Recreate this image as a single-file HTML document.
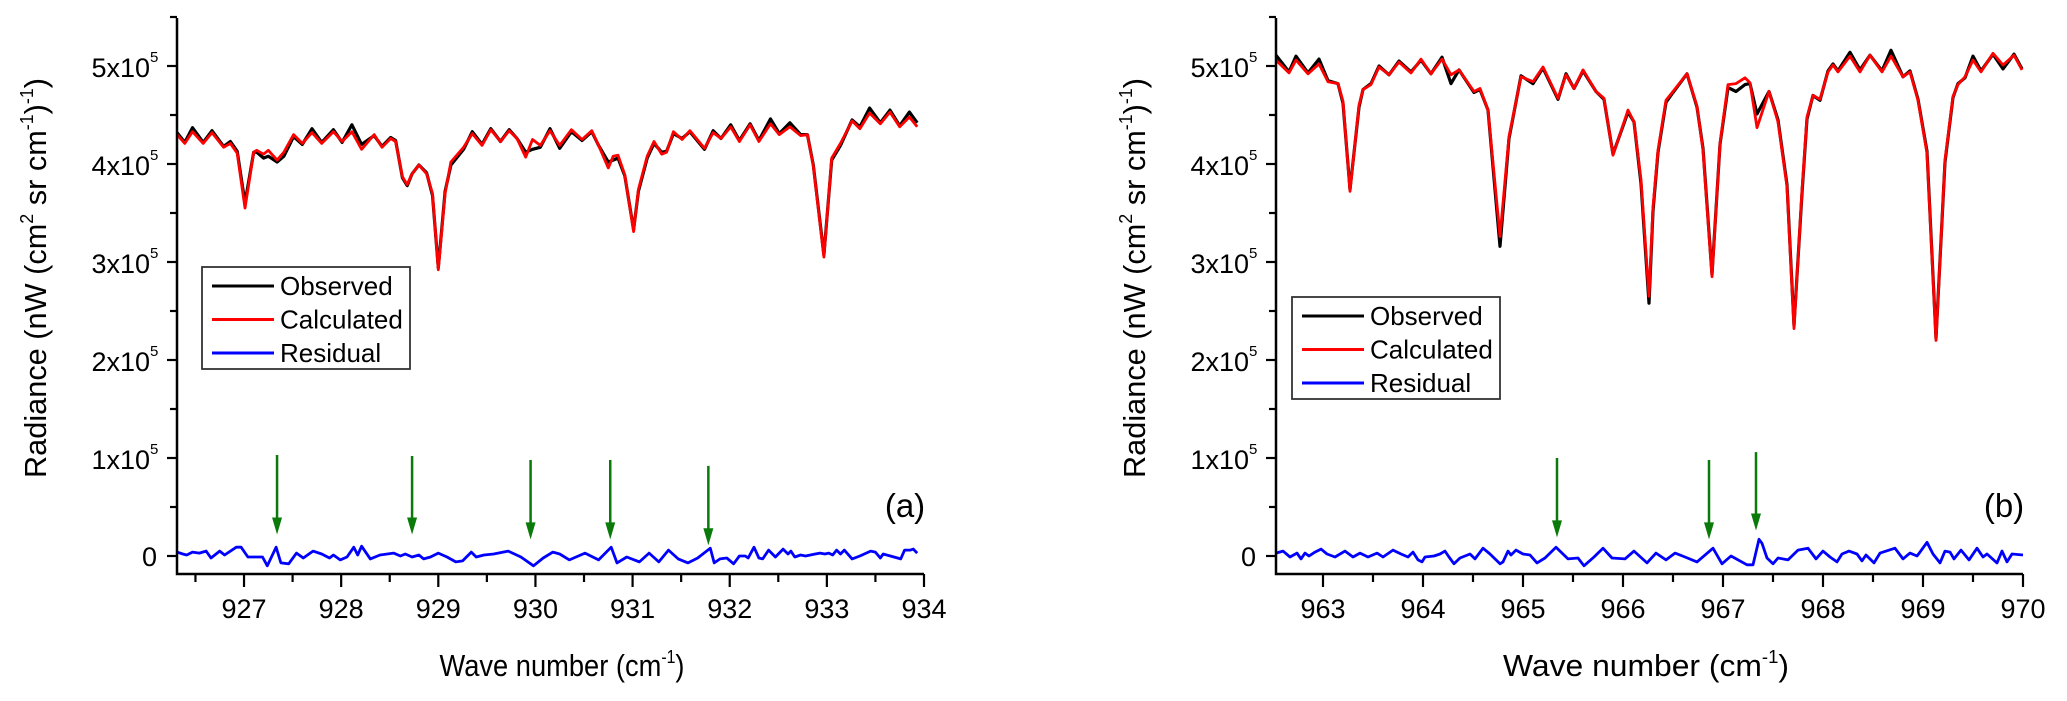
<!DOCTYPE html>
<html><head><meta charset="utf-8"><style>
html,body{margin:0;padding:0;background:#fff;}
svg{display:block;font-family:"Liberation Sans",Arial,sans-serif;}
</style></head><body>
<svg id="fig" width="2067" height="701" viewBox="0 0 2067 701"></svg>
<script>
// ---------- Panel (a) data ----------
const aX = [926.31,926.39,926.47,926.58,926.67,926.79,926.86,926.93,927.01,927.10,927.13,927.20,927.25,927.34,927.41,927.51,927.60,927.70,927.80,927.92,928.01,928.11,928.21,928.34,928.42,928.51,928.56,928.63,928.68,928.73,928.80,928.88,928.94,929.00,929.07,929.13,929.26,929.35,929.45,929.54,929.64,929.73,929.81,929.90,929.97,930.05,930.15,930.25,930.37,930.48,930.58,930.65,930.75,930.80,930.85,930.92,931.01,931.06,931.15,931.22,931.30,931.35,931.42,931.51,931.59,931.74,931.83,931.91,932.01,932.10,932.21,932.30,932.42,932.51,932.62,932.73,932.80,932.86,932.97,933.05,933.14,933.26,933.34,933.44,933.55,933.65,933.75,933.85,933.93];
const aCalc = [4.30,4.21,4.33,4.21,4.32,4.17,4.21,4.11,3.55,4.12,4.14,4.10,4.14,4.04,4.12,4.30,4.21,4.32,4.21,4.33,4.23,4.33,4.15,4.30,4.17,4.26,4.23,3.87,3.79,3.90,3.99,3.90,3.70,2.92,3.70,4.02,4.17,4.31,4.19,4.35,4.23,4.34,4.26,4.07,4.25,4.19,4.34,4.19,4.35,4.25,4.34,4.19,3.96,4.08,4.09,3.89,3.31,3.74,4.08,4.23,4.10,4.12,4.33,4.25,4.34,4.16,4.32,4.26,4.38,4.23,4.40,4.23,4.41,4.30,4.38,4.29,4.30,3.98,3.05,4.06,4.21,4.44,4.36,4.52,4.41,4.53,4.38,4.48,4.38];
const aObs = [4.32,4.22,4.37,4.22,4.34,4.18,4.23,4.13,3.60,4.12,4.12,4.06,4.08,4.02,4.08,4.28,4.20,4.36,4.22,4.35,4.22,4.40,4.20,4.29,4.18,4.27,4.24,3.86,3.78,3.90,3.99,3.91,3.68,2.94,3.72,3.99,4.15,4.33,4.20,4.36,4.23,4.35,4.26,4.12,4.15,4.17,4.36,4.16,4.33,4.24,4.33,4.19,4.02,4.04,4.06,3.88,3.33,3.72,4.06,4.21,4.12,4.13,4.31,4.26,4.33,4.15,4.34,4.26,4.40,4.24,4.41,4.24,4.46,4.31,4.42,4.30,4.30,3.99,3.07,4.04,4.19,4.45,4.38,4.57,4.42,4.55,4.39,4.53,4.42];
const aResX = [926.31,926.37,926.41,926.47,926.54,926.61,926.66,926.75,926.80,926.92,926.97,927.04,927.12,927.19,927.24,927.33,927.38,927.46,927.54,927.61,927.71,927.80,927.88,927.92,927.99,928.06,928.13,928.17,928.21,928.30,928.40,928.54,928.61,928.66,928.73,928.80,928.85,928.92,929.00,929.09,929.18,929.25,929.34,929.39,929.47,929.57,929.72,929.85,929.98,930.08,930.18,930.25,930.35,930.51,930.65,930.78,930.84,930.94,931.07,931.17,931.27,931.37,931.47,931.57,931.67,931.80,931.84,931.90,931.97,932.04,932.10,932.16,932.19,932.25,932.30,932.34,932.40,932.47,932.55,932.60,932.63,932.67,932.73,932.78,932.88,932.93,932.98,933.02,933.06,933.10,933.14,933.18,933.26,933.34,933.45,933.50,933.55,933.58,933.76,933.80,933.86,933.89,933.93];
const aRes = [0.04,0.02,0.01,0.04,0.03,0.05,-0.02,0.05,0.01,0.09,0.09,-0.01,-0.01,-0.01,-0.10,0.09,-0.07,-0.08,0.03,-0.02,0.05,0.02,-0.02,0.01,-0.04,-0.01,0.09,0.01,0.10,-0.03,0.01,0.03,0.00,0.02,-0.01,0.01,-0.03,-0.01,0.03,-0.01,-0.06,-0.05,0.04,-0.01,0.01,0.02,0.05,-0.01,-0.10,-0.02,0.04,0.02,-0.04,0.03,-0.04,0.09,-0.07,-0.01,-0.06,0.03,-0.06,0.06,-0.03,-0.07,-0.02,0.08,-0.07,-0.03,-0.02,-0.08,0.00,0.00,-0.02,0.09,-0.02,-0.03,0.06,-0.01,0.07,0.02,0.05,-0.01,0.01,0.00,0.02,0.03,0.02,0.03,0.01,0.06,0.02,0.06,-0.03,0.00,0.05,0.04,-0.02,0.02,-0.03,0.06,0.06,0.07,0.03];
const aArrowX = [927.34,928.73,929.95,930.77,931.78];
const aArrowTop = [1.03,1.02,0.98,0.98,0.92];
const aArrowTip = [0.22,0.22,0.17,0.17,0.11];
const aXTicks = [927,928,929,930,931,932,933,934];

// ---------- Panel (b) data ----------
const bX = [962.53,962.66,962.73,962.85,962.96,963.05,963.15,963.20,963.27,963.36,963.40,963.48,963.56,963.66,963.76,963.88,963.98,964.08,964.19,964.28,964.36,964.51,964.57,964.65,964.77,964.86,964.98,965.10,965.20,965.35,965.43,965.51,965.60,965.73,965.81,965.90,966.05,966.11,966.18,966.26,966.30,966.35,966.43,966.50,966.64,966.74,966.80,966.89,966.97,967.05,967.13,967.22,967.27,967.34,967.46,967.55,967.64,967.71,967.79,967.84,967.90,967.97,968.05,968.10,968.15,968.27,968.37,968.47,968.59,968.68,968.80,968.87,968.95,969.04,969.13,969.22,969.30,969.35,969.42,969.50,969.58,969.70,969.80,969.91,969.99];
const bCalc = [5.06,4.93,5.06,4.92,5.02,4.84,4.82,4.64,3.72,4.60,4.76,4.81,4.99,4.91,5.04,4.93,5.07,4.92,5.07,4.91,4.96,4.74,4.77,4.55,3.26,4.28,4.89,4.84,4.99,4.67,4.91,4.77,4.96,4.74,4.67,4.09,4.55,4.43,3.84,2.65,3.56,4.14,4.65,4.74,4.92,4.59,4.14,2.85,4.21,4.81,4.82,4.88,4.83,4.37,4.74,4.43,3.77,2.32,3.73,4.48,4.70,4.66,4.94,5.01,4.94,5.10,4.94,5.11,4.94,5.10,4.89,4.94,4.65,4.11,2.20,4.04,4.69,4.81,4.89,5.06,4.94,5.13,5.01,5.11,4.96];
const bObs = [5.11,4.94,5.10,4.93,5.07,4.85,4.82,4.62,3.74,4.58,4.76,4.82,5.00,4.91,5.05,4.94,5.06,4.92,5.09,4.82,4.96,4.73,4.76,4.55,3.16,4.26,4.90,4.82,4.98,4.66,4.92,4.77,4.95,4.74,4.66,4.10,4.53,4.43,3.80,2.58,3.52,4.12,4.63,4.73,4.92,4.58,4.16,2.87,4.20,4.78,4.74,4.81,4.82,4.51,4.74,4.45,3.79,2.35,3.70,4.46,4.70,4.65,4.95,5.02,4.95,5.14,4.96,5.11,4.95,5.16,4.89,4.95,4.66,4.13,2.22,4.02,4.68,4.82,4.88,5.10,4.95,5.12,4.97,5.12,4.97];
const bResX = [962.53,962.60,962.67,962.74,962.78,962.82,962.86,962.92,962.98,963.04,963.12,963.22,963.30,963.37,963.45,963.54,963.60,963.70,963.78,963.85,963.90,963.95,963.99,964.02,964.11,964.17,964.22,964.26,964.31,964.37,964.47,964.52,964.60,964.67,964.77,964.80,964.85,964.88,964.93,965.00,965.07,965.14,965.22,965.33,965.45,965.55,965.61,965.71,965.80,965.89,966.02,966.11,966.24,966.33,966.43,966.52,966.62,966.74,966.90,966.99,967.08,967.24,967.30,967.36,967.39,967.44,967.50,967.55,967.65,967.75,967.85,967.93,968.00,968.07,968.14,968.19,968.26,968.34,968.39,968.43,968.51,968.57,968.72,968.80,968.87,968.94,968.97,969.04,969.10,969.17,969.22,969.27,969.31,969.38,969.46,969.54,969.60,969.64,969.74,969.79,969.84,969.89,970.00];
const bRes = [0.03,0.05,-0.01,0.03,-0.03,0.03,0.00,0.04,0.07,0.02,-0.01,0.05,-0.01,0.03,-0.01,0.03,-0.01,0.06,0.02,-0.01,0.04,-0.04,-0.06,-0.01,0.00,0.02,0.05,-0.01,-0.08,-0.02,0.02,-0.03,0.08,0.02,-0.08,-0.06,0.05,0.01,0.06,0.02,0.01,-0.07,-0.02,0.09,-0.03,-0.02,-0.10,-0.01,0.08,-0.02,-0.03,0.05,-0.07,0.03,-0.04,0.03,-0.01,-0.06,0.08,-0.08,0.00,-0.09,-0.09,0.17,0.13,-0.02,-0.08,-0.02,-0.04,0.06,0.08,-0.03,0.05,-0.01,-0.06,0.02,0.05,0.02,-0.05,0.01,-0.07,0.03,0.08,-0.03,0.03,0.00,0.04,0.14,0.02,-0.07,0.05,0.04,-0.03,0.06,-0.04,0.08,-0.01,0.02,-0.07,0.05,-0.06,0.02,0.01];
const bArrowX = [965.34,966.86,967.33];
const bArrowTop = [1.00,0.98,1.06];
const bArrowTip = [0.19,0.17,0.26];
const bXTicks = [963,964,965,966,967,968,969,970];

const yTicks = [0,1,2,3,4,5];
const yTickLabels = ["0","1x10","2x10","3x10","4x10","5x10"];
const legendLabels = ["Observed","Calculated","Residual"];

const NS = "http://www.w3.org/2000/svg";
const svg = document.getElementById("fig");
function mk(tag, attrs, parent){
  const e = document.createElementNS(NS, tag);
  for (const k in attrs) e.setAttribute(k, attrs[k]);
  (parent||svg).appendChild(e);
  return e;
}

function panel(cfg){
  const g = mk("g", {});
  
  
  const xs = v => cfg.left + (v - cfg.x0) / (cfg.x1 - cfg.x0) * (cfg.right - cfg.left);
  const ys = v => cfg.zeroY - v * cfg.pxPerUnit;
  // series
  const line = (X, Y, color, nm, w) => {
    const p = mk("polyline", {points: X.map((x,i)=>xs(x).toFixed(1)+","+ys(Y[i]).toFixed(1)).join(" "), fill:"none", stroke:color, "stroke-width":w, "stroke-linejoin":"round"}, g);
    
    
  };
  line(cfg.X, cfg.obs, "#000", "observed-line", 3.2);
  line(cfg.X, cfg.calc, "#ff0000", "calculated-line", 2.8);
  line(cfg.resX, cfg.res, "#0000ff", "residual-line", 2.8);
  // arrows
  cfg.arX.forEach((ax,i)=>{
    const x = xs(ax), y1 = ys(cfg.arTop[i]), y2 = ys(cfg.arTip[i]);
    const ag = mk("g", {}, g);
    
    
    mk("line", {x1:x, y1:y1, x2:x, y2:y2-12, stroke:"#0a7a0a", "stroke-width":2.5}, ag);
    mk("polygon", {points:`${x-5},${y2-17} ${x+5},${y2-17} ${x},${y2}`, fill:"#0a7a0a"}, ag);
  });
  // axes
  const ax = mk("path", {d:`M${cfg.left},${cfg.top} L${cfg.left},${cfg.bottom} L${cfg.right},${cfg.bottom}`, fill:"none", stroke:"#000", "stroke-width":2.5}, g);
  
  
  // y ticks
  yTicks.forEach((t,i)=>{
    const y = ys(t);
    mk("line", {x1:cfg.left-10, y1:y, x2:cfg.left, y2:y, stroke:"#000", "stroke-width":2.2}, g);
    mk("line", {x1:cfg.left-7, y1:ys(t+0.5), x2:cfg.left, y2:ys(t+0.5), stroke:"#000", "stroke-width":2.2}, g);
    if (t === 0) {
      const tx = mk("text", {x:cfg.left-20, y:y+10, "font-size":27, "text-anchor":"end"}, g);
      tx.textContent = yTickLabels[i];
      
      
    } else {
      const tx = mk("text", {x:cfg.left-27, y:y+11, "font-size":27, "text-anchor":"end"}, g);
      tx.textContent = yTickLabels[i];
      
      
      const sp = mk("text", {x:cfg.left-27, y:y-4, "font-size":15}, g);
      sp.textContent = "5";
      
      
    }
  });
  // x ticks
  cfg.xTicks.forEach(t=>{
    const x = xs(t);
    mk("line", {x1:x, y1:cfg.bottom, x2:x, y2:cfg.bottom+13, stroke:"#000", "stroke-width":2.2}, g);
    if (t-0.5 > cfg.x0) { const xm = xs(t-0.5); mk("line", {x1:xm, y1:cfg.bottom, x2:xm, y2:cfg.bottom+8, stroke:"#000", "stroke-width":2.2}, g); }
    const tx = mk("text", {x:x, y:cfg.bottom+44, "font-size":27, "text-anchor":"middle"}, g);
    tx.textContent = String(t);
    
    
  });
  // x title
  const xt = mk("text", {x:cfg.xTitleX, y:676, "font-size":31, "text-anchor":"middle", textLength:cfg.xTitleW, lengthAdjust:"spacingAndGlyphs"}, g);
  xt.innerHTML = 'Wave number (cm<tspan dy="-13" font-size="18">-1</tspan><tspan dy="13">)</tspan>';
  
  
  // y title
  const yt = mk("text", {x:0, y:0, "font-size":31, "text-anchor":"middle", transform:`translate(${cfg.left-131},278) rotate(-90)`, textLength:400, lengthAdjust:"spacingAndGlyphs"}, g);
  yt.innerHTML = 'Radiance (nW (cm<tspan dy="-13" font-size="18">2</tspan><tspan dy="13"> sr cm</tspan><tspan dy="-13" font-size="18">-1</tspan><tspan dy="13">)</tspan><tspan dy="-13" font-size="18">-1</tspan><tspan dy="13">)</tspan>';
  
  
  // panel label
  const pl = mk("text", {x:cfg.labelX, y:517, "font-size":33, "text-anchor":"middle"}, g);
  pl.textContent = cfg.label;
  
  
  // legend
  const lg = mk("g", {}, g);
  
  
  mk("rect", {x:cfg.legX, y:cfg.legY, width:208, height:cfg.legH, fill:"#fff", stroke:"#333", "stroke-width":1.8}, lg);
  const cols = ["#000","#ff0000","#0000ff"];
  legendLabels.forEach((lab,i)=>{
    const ry = cfg.legY + 19 + i*33.5;
    const e = mk("g", {}, lg);
    
    
    mk("line", {x1:cfg.legX+10, y1:ry, x2:cfg.legX+72, y2:ry, stroke:cols[i], "stroke-width":3}, e);
    const t = mk("text", {x:cfg.legX+78, y:ry+9, "font-size":26}, e);
    t.textContent = lab;
  });
}

panel({name:"panel-a", X:aX, obs:aObs, calc:aCalc, resX:aResX, res:aRes, arX:aArrowX, arTop:aArrowTop, arTip:aArrowTip, xTicks:aXTicks,
  left:177, right:924, top:18, bottom:574, zeroY:556, pxPerUnit:98, x0:926.31, x1:934,
  xTitleX:562, xTitleW:245, label:"(a)", labelX:905, legX:202, legY:267, legH:102});
panel({name:"panel-b", X:bX, obs:bObs, calc:bCalc, resX:bResX, res:bRes, arX:bArrowX, arTop:bArrowTop, arTip:bArrowTip, xTicks:bXTicks,
  left:1276, right:2023, top:18, bottom:574, zeroY:556, pxPerUnit:98, x0:962.53, x1:970,
  xTitleX:1646, xTitleW:286, label:"(b)", labelX:2004, legX:1292, legY:297, legH:102});
</script>
</body></html>
